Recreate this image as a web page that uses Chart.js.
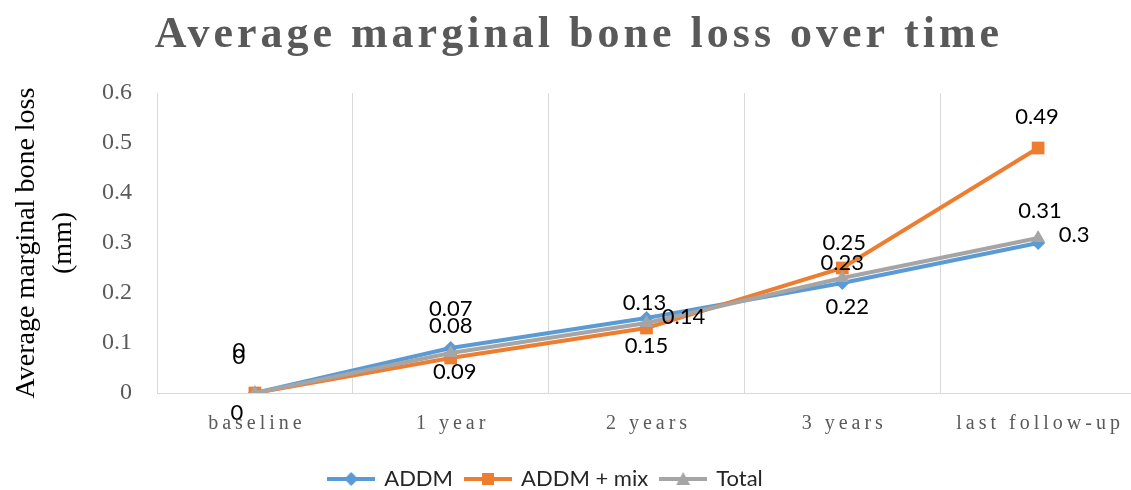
<!DOCTYPE html>
<html>
<head>
<meta charset="utf-8">
<script src="https://cdn.jsdelivr.net/npm/chart.js@4.4.0/dist/chart.umd.min.js"></script>
<style>
html, body { margin: 0; padding: 0; background: #fff; overflow: hidden; }
#wrap { width: 1131px; height: 490px; overflow: hidden; }
</style>
</head>
<body>
<div id="wrap"><canvas id="linechart" width="1136" height="490"></canvas></div>
<script>
var categories = ['baseline', '1 year', '2 years', '3 years', 'last follow-up'];
var addm = [0, 0.09, 0.15, 0.22, 0.30];
var addmMix = [0, 0.07, 0.13, 0.25, 0.49];
var total = [0, 0.08, 0.14, 0.23, 0.31];
var seriesNames = ['ADDM', 'ADDM + mix', 'Total'];
var titleText = 'Average marginal bone loss over time';
var yTitle = ['Average marginal bone loss', '(mm)'];

var blue = '#5B9BD5', orange = '#ED7D31', grey = '#A5A5A5';

// small line + marker pictures for the legend
function legendIcon(color, shape) {
    var c = document.createElement('canvas');
    c.width = 48; c.height = 18;
    var g = c.getContext('2d');
    g.strokeStyle = color; g.fillStyle = color; g.lineWidth = 4;
    g.beginPath(); g.moveTo(0, 9); g.lineTo(48, 9); g.stroke();
    g.beginPath();
    if (shape === 'diamond') {
        g.moveTo(24, 2); g.lineTo(31, 9); g.lineTo(24, 16); g.lineTo(17, 9);
    } else if (shape === 'square') {
        g.rect(18, 3, 12, 12);
    } else {
        g.moveTo(24, 2); g.lineTo(31, 15); g.lineTo(17, 15);
    }
    g.closePath(); g.fill();
    return c;
}
var icons = [legendIcon(blue, 'diamond'), legendIcon(orange, 'square'), legendIcon(grey, 'triangle')];

// text with letter spacing: title and category labels
var spacedText = {
    id: 'spacedText',
    afterLayout: function (chart) {
        // legend sits a bit left of centre in the original
        chart.legend.left -= 22;
        chart.legend.right -= 22;
    },
    afterDraw: function (chart) {
        var ctx = chart.ctx;
        ctx.save();
        ctx.fillStyle = '#595959';
        ctx.textAlign = 'center';
        ctx.textBaseline = 'alphabetic';
        ctx.letterSpacing = '4px';
        ctx.font = 'bold 44px "Liberation Serif"';
        ctx.fillText(titleText, 579, 47);
        ctx.font = '20px "Liberation Serif"';
        ctx.textBaseline = 'middle';
        var xs = chart.scales.x;
        categories.forEach(function (c, i) {
            ctx.fillText(c, xs.getPixelForValue(i) + 2, chart.chartArea.bottom + 31);
        });
        ctx.restore();
    }
};

// value labels next to the points
var pointLabels = {
    id: 'pointLabels',
    afterDatasetsDraw: function (chart) {
        var ctx = chart.ctx;
        ctx.save();
        ctx.font = '22px Lato';
        ctx.fillStyle = '#000';
        ctx.textAlign = 'center';
        ctx.textBaseline = 'middle';
        chart.data.datasets.forEach(function (ds, di) {
            var meta = chart.getDatasetMeta(di);
            meta.data.forEach(function (pt, i) {
                var off = ds.labelOffsets[i];
                ctx.fillText(String(ds.data[i]), pt.x + off[0], pt.y + off[1]);
            });
        });
        ctx.restore();
    }
};

var ctxline = document.getElementById('linechart');
var linechart = new Chart(ctxline, {
    type: 'line',
    data: {
        labels: categories,
        datasets: [{
            label: seriesNames[0],
            data: addm,
            borderColor: blue,
            backgroundColor: blue,
            borderWidth: 4,
            pointStyle: 'rectRot',
            pointRadius: 7,
            pointBorderWidth: 0,
            order: 3,
            labelOffsets: [[-18, 20], [4, 24], [0, 28], [5, 24], [36, -8]]
        }, {
            label: seriesNames[1],
            data: addmMix,
            borderColor: orange,
            backgroundColor: orange,
            borderWidth: 4,
            pointStyle: 'rect',
            pointRadius: 9,
            pointBorderWidth: 0,
            order: 2,
            labelOffsets: [[-16, -42], [0, -49], [-2, -25], [2, -25], [-1, -31]]
        }, {
            label: seriesNames[2],
            data: total,
            borderColor: grey,
            backgroundColor: grey,
            borderWidth: 4,
            pointStyle: 'triangle',
            pointRadius: 8,
            pointBorderWidth: 0,
            order: 1,
            labelOffsets: [[-16, -36], [0, -27], [37, -6], [0, -15], [2, -27]]
        }]
    },
    options: {
        responsive: false,
        animation: false,
        layout: { autoPadding: false, padding: { top: 93, left: 0, right: 0, bottom: -10 } },
        scales: {
            x: {
                offset: true,
                grid: { offset: true, color: '#D9D9D9', lineWidth: 1, drawTicks: false },
                border: { display: true, color: '#D9D9D9', width: 1 },
                ticks: { display: false },
                afterFit: function (s) { s.height = 62; }
            },
            y: {
                min: 0,
                max: 0.6,
                ticks: {
                    stepSize: 0.1,
                    color: '#595959',
                    padding: 25,
                    font: { family: 'Liberation Serif', size: 24 }
                },
                grid: { display: false, drawTicks: false },
                border: { display: false },
                title: {
                    display: true,
                    text: yTitle,
                    color: '#000',
                    padding: { top: 9, bottom: 0 },
                    font: { family: 'Liberation Serif', size: 28, lineHeight: 1.29 }
                },
                afterFit: function (s) { s.width = 157; }
            }
        },
        plugins: {
            title: { display: false },
            tooltip: { enabled: false },
            legend: {
                position: 'bottom',
                labels: {
                    usePointStyle: true,
                    pointStyleWidth: 44,
                    padding: 13,
                    color: '#262626',
                    font: { family: 'Lato', size: 22 },
                    generateLabels: function (chart) {
                        var items = Chart.defaults.plugins.legend.labels.generateLabels(chart);
                        items.sort(function (a, b) { return a.datasetIndex - b.datasetIndex; });
                        items.forEach(function (it) { it.pointStyle = icons[it.datasetIndex]; });
                        return items;
                    }
                }
            }
        }
    },
    plugins: [spacedText, pointLabels]
});
</script>
</body>
</html>
